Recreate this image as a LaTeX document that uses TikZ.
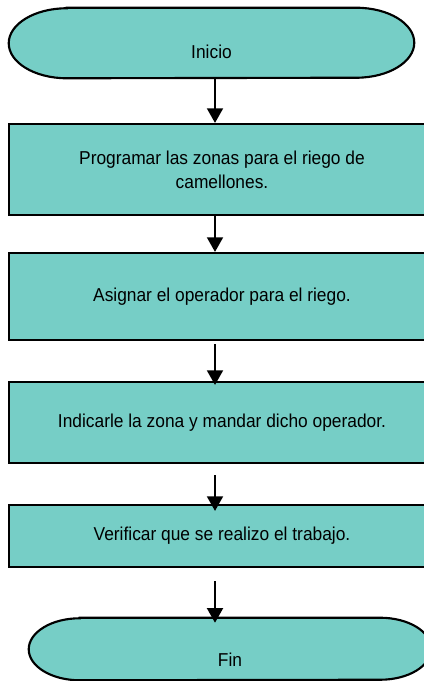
\documentclass[tikz,border=0pt]{standalone}
\usepackage{fontspec}
\setmainfont{Liberation Sans}[FakeStretch=0.93]
\usetikzlibrary{arrows.meta,calc,backgrounds}
\definecolor{aqua}{RGB}{118,206,198}

\begin{document}
\begin{tikzpicture}[x=0.75pt, y=-0.75pt, every node/.style={font=\fontsize{14}{18}\selectfont}, >={Triangle[width=12pt,length=11pt]},
	stepbox/.style={draw, line width=1.6pt, fill=aqua, align=center, inner sep=0pt, minimum width=319.5pt},
	termbox/.style={inner sep=0pt},
	arr/.style={->, line width=1.5pt}]
	\useasboundingbox (0,0) rectangle (424,681);
	\clip (0,0) rectangle (424,681);
	% start and end
	\node[termbox, minimum width=303.75pt, minimum height=52.5pt, label={[yshift=-6.75pt]center:Inicio}] (inicio) at (211.5,43) {};
	\node[termbox, minimum width=301.5pt, minimum height=46.5pt, label={[yshift=-8.25pt]center:Fin}] (fin) at (230,649) {};
	% steps
	\node[stepbox, minimum height=68.25pt] (prog) at (222,169.5) {Programar las zonas para el riego de\\camellones.};
	\node[stepbox, minimum height=65.25pt] (asig) at (222,296.5) {Asignar el operador para el riego.};
	\node[stepbox, minimum height=60.75pt] (indic) at (222,422.5) {Indicarle la zona y mandar dicho operador.};
	\node[stepbox, minimum height=46.5pt] (verif) at (222,536) {Verificar que se realizo el trabajo.};
	\begin{scope}[on background layer]
		\foreach \n/\rx/\ry in {inicio/58/35, fin/51/31} {
			\draw[line width=1.6pt, fill=aqua] ($(\n.north west)+(\rx,0)$) -- ($(\n.north east)+(-\rx,0)$)
				arc[start angle=90, end angle=-90, x radius=\rx*0.75pt, y radius=\ry*0.75pt]
				-- ($(\n.south west)+(\rx,0)$)
				arc[start angle=270, end angle=90, x radius=\rx*0.75pt, y radius=\ry*0.75pt] -- cycle;
		}
	\end{scope}
	% connectors
	\coordinate (col) at (215,0);
	\foreach \a/\b/\s/\e in {inicio/prog/0/0, prog/asig/0/0, asig/indic/3/4, indic/verif/11/7, verif/fin/13/5} {
		\draw[arr, shorten <={\s*0.75pt}, shorten >={-\e*0.75pt}] (\a.south -| col) -- (\b.north -| col);
	}
\end{tikzpicture}
\end{document}
